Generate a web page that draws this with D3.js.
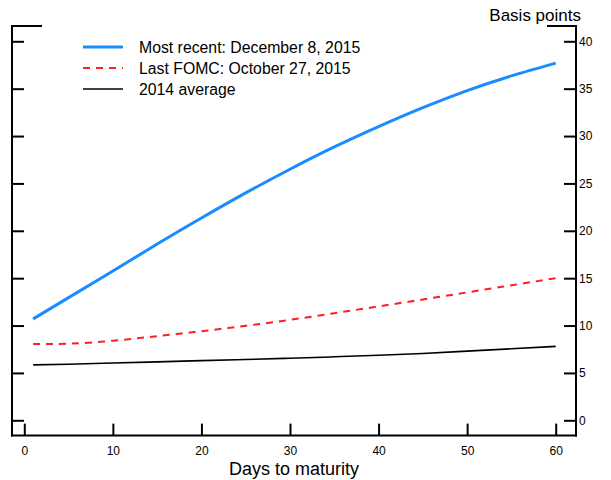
<!DOCTYPE html>
<html>
<head>
<meta charset="utf-8">
<script src="https://cdn.jsdelivr.net/npm/d3@7/dist/d3.min.js"></script>
<style>
  html, body { margin: 0; padding: 0; background: #fff; }
  svg { display: block; font-family: "Liberation Sans", Arial, sans-serif; }
</style>
</head>
<body>
<svg id="chart" width="611" height="480"></svg>
<script>
// ---- Data ----
const days = [1, 5, 10, 15, 20, 25, 30, 35, 40, 45, 50, 55, 60];
const mostRecent = [10.7, 12.95, 15.75, 18.6, 21.35, 24.0, 26.5, 28.85, 31.0, 33.0, 34.8, 36.35, 37.7];
const lastFOMC  = [8.05, 8.08, 8.4, 8.88, 9.4, 9.97, 10.6, 11.3, 12.02, 12.75, 13.5, 14.25, 15.0];
const avg2014   = [5.85, 5.92, 6.05, 6.17, 6.3, 6.42, 6.55, 6.7, 6.86, 7.05, 7.3, 7.55, 7.8];
const xTicks = [0, 10, 20, 30, 40, 50, 60];
const yTicks = [0, 5, 10, 15, 20, 25, 30, 35, 40];
const seriesNames = ["Most recent: December 8, 2015", "Last FOMC: October 27, 2015", "2014 average"];

// ---- Layout ----
const frame = { left: 12, right: 576, top: 26, bottom: 435.6 };
const svg = d3.select("#chart");

const x = d3.scaleLinear().domain([0, 60]).range([24.3, 555.7]);
const y = d3.scaleLinear().domain([0, 40]).range([420.3, 41.3]);

const series = [
  { name: seriesNames[0], values: mostRecent, color: "#1a8cff", width: 3, dash: null },
  { name: seriesNames[1], values: lastFOMC, color: "#ff1f1f", width: 2, dash: "7,6" },
  { name: seriesNames[2], values: avg2014, color: "#000000", width: 1.6, dash: null }
];

// ---- Axes ----
const xAxis = d3.axisBottom(x).tickValues(xTicks).tickSizeInner(-12).tickSizeOuter(0).tickPadding(11);
const gx = svg.append("g").attr("transform", `translate(0,${frame.bottom})`).call(xAxis);
gx.select(".domain").remove();
gx.selectAll(".tick line").attr("stroke", "#000").attr("stroke-width", 2);
gx.selectAll(".tick text").attr("font-size", 12).attr("fill", "#000")
  .attr("font-family", "Liberation Sans, Arial, sans-serif");

const yAxisR = d3.axisRight(y).tickValues(yTicks).tickSizeInner(-12).tickSizeOuter(0).tickPadding(3);
const gyr = svg.append("g").attr("transform", `translate(${frame.right},0)`).call(yAxisR);
gyr.select(".domain").remove();
gyr.selectAll(".tick line").attr("stroke", "#000").attr("stroke-width", 2);
gyr.selectAll(".tick text").attr("font-size", 12).attr("fill", "#000")
  .attr("font-family", "Liberation Sans, Arial, sans-serif");

const yAxisL = d3.axisLeft(y).tickValues(yTicks).tickSizeInner(-12).tickSizeOuter(0).tickFormat("");
const gyl = svg.append("g").attr("transform", `translate(${frame.left},0)`).call(yAxisL);
gyl.select(".domain").remove();
gyl.selectAll(".tick line").attr("stroke", "#000").attr("stroke-width", 2);

// frame lines
const frameLines = [
  [frame.left, frame.top, frame.left, frame.bottom],
  [frame.right, frame.top, frame.right, frame.bottom],
  [frame.left, frame.bottom, frame.right, frame.bottom],
  [frame.left, frame.top, frame.left + 29, frame.top],
  [frame.right - 28, frame.top, frame.right, frame.top]
];
svg.append("g").selectAll("line").data(frameLines).join("line")
  .attr("x1", d => d[0]).attr("y1", d => d[1]).attr("x2", d => d[2]).attr("y2", d => d[3])
  .attr("stroke", "#000").attr("stroke-width", 2).attr("stroke-linecap", "square");

// ---- Lines ----
const line = d3.line().x((d, i) => x(days[i])).y(d => y(d)).curve(d3.curveNatural);
svg.append("g").selectAll("path").data(series.slice().reverse()).join("path")
  .attr("d", d => line(d.values))
  .attr("fill", "none")
  .attr("stroke", d => d.color)
  .attr("stroke-width", d => d.width)
  .attr("stroke-dasharray", d => d.dash);

// ---- Legend ----
const lg = svg.append("g");
series.forEach((s, i) => {
  const yy = 47 + i * 21;
  lg.append("line").attr("x1", 83).attr("x2", 123).attr("y1", yy).attr("y2", yy)
    .attr("stroke", s.color).attr("stroke-width", s.width).attr("stroke-dasharray", s.dash);
  lg.append("text").attr("x", 139).attr("y", yy).attr("dy", "0.36em")
    .attr("font-size", 15.8).attr("fill", "#000").text(s.name);
});

// ---- Titles ----
svg.append("text").attr("x", 581).attr("y", 21).attr("text-anchor", "end")
  .attr("font-size", 17).attr("fill", "#000").text("Basis points");
svg.append("text").attr("x", 294).attr("y", 475).attr("text-anchor", "middle")
  .attr("font-size", 18).attr("fill", "#000").text("Days to maturity");
</script>
</body>
</html>
